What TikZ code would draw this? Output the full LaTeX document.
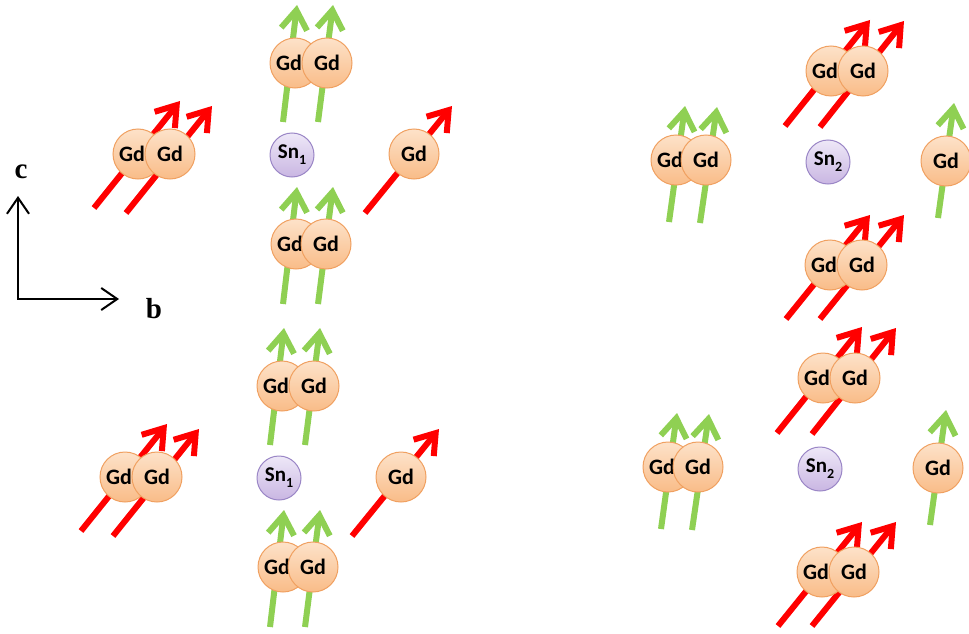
\documentclass[tikz,border=0pt]{standalone}
\usepackage{fontspec}
\setsansfont{Carlito}
\setmainfont{Liberation Serif}
\usetikzlibrary{arrows.meta}
\definecolor{spinred}{HTML}{FF0000}
\definecolor{spingreen}{HTML}{8FD053}
\definecolor{gdtop}{HTML}{FDE2C9}
\definecolor{gdbot}{HTML}{F9BC88}
\definecolor{gdline}{HTML}{F0A060}
\definecolor{sntop}{HTML}{EEE8F8}
\definecolor{snbot}{HTML}{C9B6E2}
\definecolor{snline}{HTML}{9A86C6}
\tikzset{
  gd/.style={circle, minimum size=50pt, inner sep=0pt, top color=gdtop, bottom color=gdbot,
    draw=gdline, line width=1pt, text=black, font=\sffamily\bfseries\fontsize{22}{22}\selectfont},
  sn/.style={circle, minimum size=44pt, inner sep=0pt, top color=sntop, bottom color=snbot,
    draw=snline, line width=1pt, text=black, font=\sffamily\bfseries\fontsize{21}{21}\selectfont},
  spin/.style={line width=6pt, -{Straight Barb[length=19pt,width=26pt]}},
  redspin/.style={spin, draw=spinred},
  greenspin/.style={spin, draw=spingreen},
  axisline/.style={line width=2pt, line join=miter,
    {Straight Barb[length=16pt,width=22pt]}-{Straight Barb[length=16pt,width=22pt]}},
  axlabel/.style={font=\bfseries\fontsize{29}{29}\selectfont, anchor=base, inner sep=0pt}
}
\newcommand\subidx[1]{\raisebox{-0.28em}{\fontsize{14}{14}\selectfont #1}}
\newcommand\gdback{Gd\hspace*{12pt}}
% left-type group: Sn centre at (#2,#3)
\newcommand\leftgrp[4]{%
\begin{scope}[shift={(#2,#3)}]
  \draw[greenspin] (-9,-33) -- (5,-150);
  \draw[greenspin] (26,-33) -- (41,-150);
  \draw[greenspin] (-9,149) -- (5,32);
  \draw[greenspin] (26,149) -- (41,32);
  \draw[redspin] (-198,53) -- (-112,-54);
  \draw[redspin] (-166,58) -- (-80,-49);
  \draw[redspin] (73,58) -- (160,-49);
  \node[gd] (#1ta) at (3,-92) {\gdback};
  \node[gd] (#1tb) at (35,-92) {Gd};
  \node[gd] (#1la) at (-154,-1) {\gdback};
  \node[gd] (#1lb) at (-122,-1) {Gd};
  \node[sn] (#1sn) at (0,0) {Sn\subidx{#4}};
  \node[gd] (#1r) at (122,-1) {Gd};
  \node[gd] (#1ba) at (4,89) {\gdback};
  \node[gd] (#1bb) at (34,89) {Gd};
\end{scope}}
% right-type group
\newcommand\rightgrp[4]{%
\begin{scope}[shift={(#2,#3)}]
  \draw[redspin] (-43,-36) -- (42,-142);
  \draw[redspin] (-8,-35) -- (76,-141);
  \draw[greenspin] (-159,60) -- (-143,-56);
  \draw[greenspin] (-128,61) -- (-111,-55);
  \draw[greenspin] (110,56) -- (126,-59);
  \draw[redspin] (-42,157) -- (42,53);
  \draw[redspin] (-8,157) -- (76,53);
  \node[gd] (#1ta) at (3,-91) {\gdback};
  \node[gd] (#1tb) at (35,-91) {Gd};
  \node[gd] (#1la) at (-152,-2) {\gdback};
  \node[gd] (#1lb) at (-122,-2) {Gd};
  \node[sn] (#1sn) at (0,0) {Sn\subidx{#4}};
  \node[gd] (#1r) at (118,-1) {Gd};
  \node[gd] (#1ba) at (2,103) {\gdback};
  \node[gd] (#1bb) at (34,103) {Gd};
\end{scope}}
\begin{document}
\begin{tikzpicture}[x=1pt,y=-1pt]
  \useasboundingbox (0,0) rectangle (969,634);
  \clip (0,0) rectangle (969,634);
  % axes
  \coordinate (O) at (18,299);
  \coordinate (cT) at (18,196);
  \coordinate (bT) at (119,299);
  \draw[axisline] (cT) -- (O) -- (bT);
  \node[axlabel] (lc) at (21,178) {c};
  \node[axlabel] (lb) at (154,318) {b};
  % groups
  \leftgrp{A}{292}{155}{1}
  \leftgrp{B}{279}{478}{1}
  \rightgrp{C}{828}{162}{2}
  \rightgrp{D}{820}{469}{2}
\end{tikzpicture}
\end{document}
